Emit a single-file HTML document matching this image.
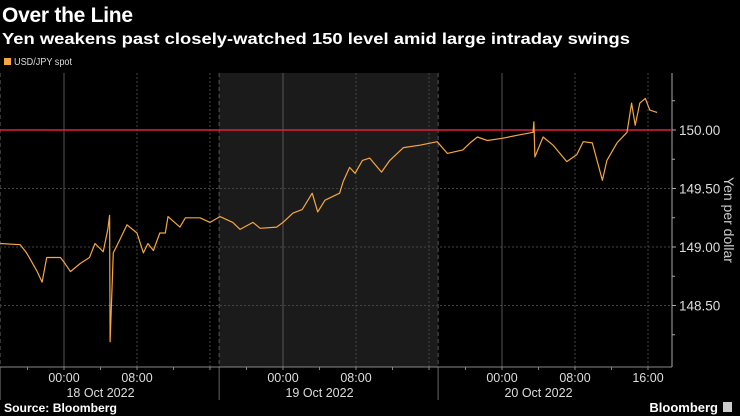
<!DOCTYPE html>
<html><head><meta charset="utf-8"><style>
body{margin:0;background:#000;width:740px;height:416px;overflow:hidden;font-family:"Liberation Sans",sans-serif;color:#fff}
svg{display:block}
</style></head><body>
<svg id="chart" width="740" height="416" xmlns="http://www.w3.org/2000/svg">
<text x="2" y="22" font-size="21" font-weight="bold" fill="#fff" textLength="131">Over the Line</text>
<text x="2" y="44" font-size="16" font-weight="bold" fill="#fff" textLength="628" lengthAdjust="spacingAndGlyphs">Yen weakens past closely-watched 150 level amid large intraday swings</text>
<rect x="4" y="58" width="7" height="7" fill="#f5a640"/>
<text x="14" y="65" font-size="10" fill="#ddd" textLength="58" lengthAdjust="spacingAndGlyphs">USD/JPY spot</text>
<g id="plot"></g>
<text x="4" y="412" font-size="11.5" font-weight="bold" fill="#fff" textLength="113" lengthAdjust="spacingAndGlyphs">Source: Bloomberg</text>
<text x="718" y="412" font-size="13" font-weight="bold" fill="#fff" text-anchor="end">Bloomberg</text>
<rect x="723" y="402" width="9" height="10" fill="#ccc"/>
</svg>
<script>
const hours=[-7,-4.8,-4.1,-3,-2.4,-1.9,-0.4,0.1,0.7,1.8,2.8,3.4,4.3,4.8,5.0,5.05,5.4,6.1,6.9,8,8.7,9.2,9.8,10.5,11.1,11.4,12.7,13.3,14.9,16,17.1,18.5,19.3,20.7,21.5,23.3,24,25.1,26.1,27.2,27.8,28.6,30.2,30.6,31.3,31.9,32.7,33.5,34.8,35.7,37.2,39,40.9,42,43.7,44.5,45.3,46.4,48.1,50,51.4,51.5,51.6,52.5,53.6,55.1,56.2,56.9,57.9,59,59.5,60.6,61.7,62.2,62.6,63.1,63.7,64.2,65];
const prices=[149.03,149.02,148.95,148.80,148.70,148.91,148.91,148.86,148.79,148.86,148.91,149.03,148.96,149.15,149.27,148.19,148.95,149.06,149.19,149.12,148.95,149.03,148.97,149.12,149.12,149.26,149.17,149.25,149.25,149.21,149.26,149.21,149.15,149.21,149.16,149.17,149.21,149.29,149.32,149.46,149.30,149.40,149.46,149.56,149.68,149.63,149.74,149.76,149.64,149.74,149.85,149.87,149.90,149.80,149.83,149.89,149.94,149.91,149.93,149.96,149.98,150.07,149.77,149.94,149.87,149.73,149.79,149.90,149.89,149.57,149.74,149.89,149.98,150.23,150.04,150.23,150.27,150.17,150.15];
const yTicks=[150.00,149.50,149.00,148.50];
const yMinor=[150.25,149.75,149.25,148.75,148.25];
const xTickHours=[0,8,24,32,48,56,64];
const xTickLabels=["00:00","08:00","00:00","08:00","00:00","08:00","16:00"];
const dayLabels=["18 Oct 2022","19 Oct 2022","20 Oct 2022"];
const dayCenterHours=[4,28,52];
const threshold=[150.00];
const NS="http://www.w3.org/2000/svg";
const X0=64,PXH=9.125,Y150=130,PXU=117,LEFT=0,RIGHT=672,TOP=73,BOT=367;
const xs=h=>X0+h*PXH, ys=p=>Y150-(p-150)*PXU;
const g=document.getElementById('plot');
function el(t,a,p){const e=document.createElementNS(NS,t);for(const k in a)e.setAttribute(k,a[k]);(p||g).appendChild(e);return e;}
let e;
e=el('rect',{x:xs(17),y:TOP,width:xs(41)-xs(17),height:BOT-TOP,fill:'#1b1b1b'});


[xs(-7),xs(17),xs(41)].forEach(x=>{e=el('line',{x1:x,x2:x,y1:TOP,y2:BOT,stroke:'#555','stroke-dasharray':'4,3'});

});
yTicks.forEach(v=>{e=el('line',{x1:LEFT,x2:RIGHT,y1:ys(v),y2:ys(v),stroke:'#444','stroke-dasharray':'2,2'});


e=el('line',{x1:RIGHT,x2:RIGHT+4,y1:ys(v),y2:ys(v),stroke:'#aaa'});


e=el('text',{x:RIGHT+7,y:ys(v)+5,'font-size':13.5,fill:'#ddd'});e.textContent=v.toFixed(2);

});
yMinor.forEach(v=>{e=el('line',{x1:RIGHT,x2:RIGHT+3,y1:ys(v),y2:ys(v),stroke:'#aaa'});

});
xTickHours.forEach((h,i)=>{const x=xs(h);const solid=xTickLabels[i]==="00:00";
e=el('line',{x1:x,x2:x,y1:TOP,y2:BOT,stroke:solid?'#555':'#444','stroke-dasharray':solid?'':'2,2'});


e=el('text',{x:x,y:382,'font-size':12.5,fill:'#ddd','text-anchor':'middle'});e.textContent=xTickLabels[i];

});
[16,40].forEach(h=>{e=el('line',{x1:xs(h),x2:xs(h),y1:TOP,y2:BOT,stroke:'#444','stroke-dasharray':'2,2'});

});
for(let h=-4;h<=64;h+=4){e=el('line',{x1:xs(h),x2:xs(h),y1:BOT,y2:BOT+3,stroke:'#888'});

}
dayLabels.forEach((d,i)=>{e=el('text',{x:xs(dayCenterHours[i]),y:397,'font-size':12.5,fill:'#ddd','text-anchor':'middle'});e.textContent=d;

});
[xs(-7),xs(17),xs(41)].forEach(x=>{e=el('line',{x1:x,x2:x,y1:BOT,y2:400,stroke:'#666'});

});
e=el('line',{x1:LEFT,x2:RIGHT,y1:BOT,y2:BOT,stroke:'#888'});


e=el('line',{x1:RIGHT,x2:RIGHT,y1:TOP,y2:BOT,stroke:'#aaa'});


e=el('text',{x:724,y:220,'font-size':14,fill:'#ccc','text-anchor':'middle',transform:'rotate(90 724 220)'});e.textContent='Yen per dollar';


e=el('line',{x1:LEFT,x2:RIGHT,y1:ys(threshold[0]),y2:ys(threshold[0]),stroke:'#e0203a','stroke-width':1.6});


e=el('polyline',{points:hours.map((h,i)=>xs(h).toFixed(1)+','+ys(prices[i]).toFixed(1)).join(' '),fill:'none',stroke:'#f5a640','stroke-width':1.2,'stroke-linejoin':'round'});


</script>
</body></html>
